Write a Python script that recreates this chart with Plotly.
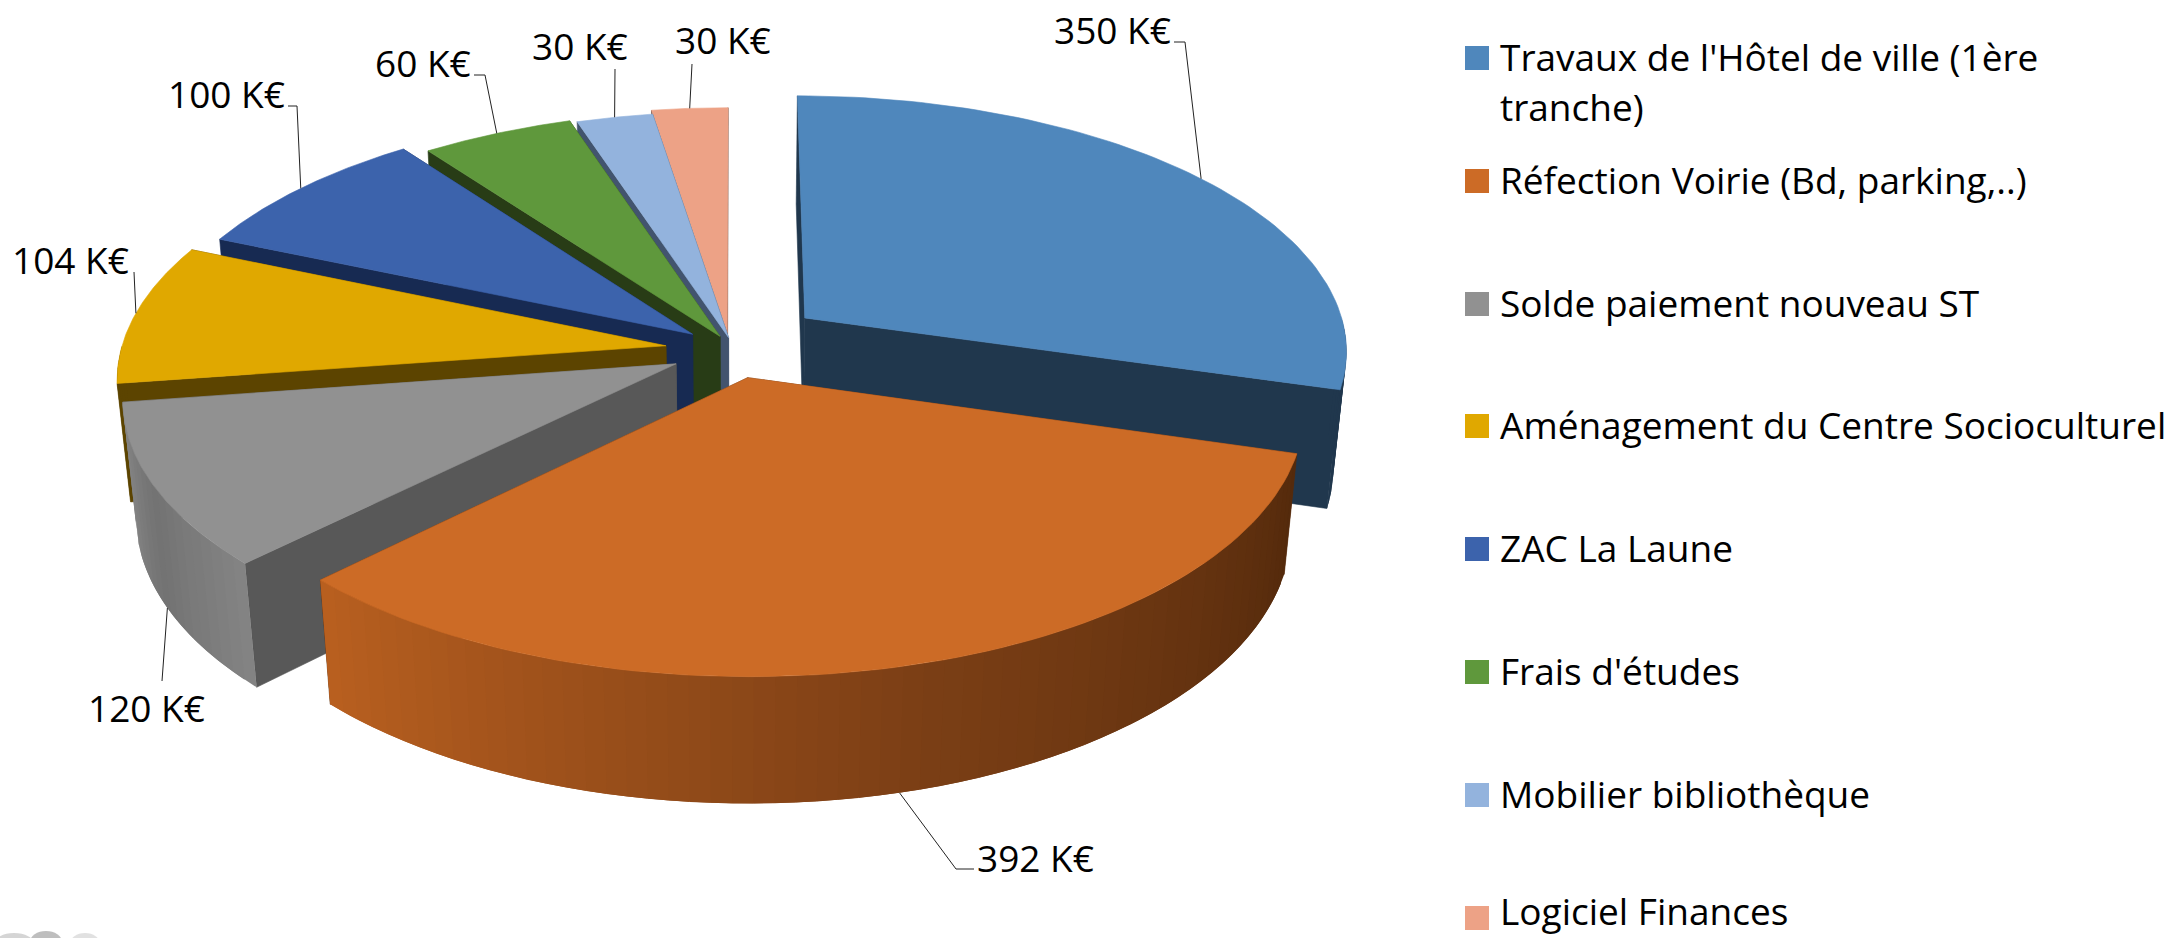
import numpy as np
import plotly.graph_objects as go

# ---- data ----
CATEGORIES = ["Travaux de l'Hôtel de ville (1ère\ntranche)", "Réfection Voirie (Bd, parking,..)",
              "Solde paiement nouveau ST", "Aménagement du Centre Socioculturel", "ZAC La Laune",
              "Frais d'études", "Mobilier bibliothèque", "Logiciel Finances"]
VALUES = [350, 392, 120, 104, 100, 60, 30, 30]
UNIT = "K€"

# ---- styles ----
TOP_COLORS = ["#4F87BC", "#CC6B26", "#919191", "#E0A800", "#3C63AC", "#5F983C", "#93B3DD", "#EDA286"]
SIDE_COLORS = ["#20374D", "#5A2E0E", "#585858", "#5C4400", "#172A52", "#283C16", "#42546E", "#64463C"]
OUTER_STOPS = {1: [(186, 96, 32), (125, 64, 22), (84, 42, 12)],
               2: [(138, 138, 138), (115, 115, 115), (132, 132, 132)]}
EXPLODE = [0.17, 0.11, 0.12, 0.128, 0.10, 0.06, 0.05, 0.08]
NUDGE_U = [-0.006, -0.004, 0, 0, 0, 0, 0, -0.008]
NUDGE_V = [0.025, 0, 0, 0, 0, 0, 0, -0.012]
DRAW_ORDER = [7, 6, 5, 4, 3, 0, 2, 1]
FONT = "Open Sans"
FS = 37

# projection constants
CX, CY, A, B, K, M, H = 735, 350, 256, 545, 0.12, 0.022, 120


def project(u, v, z=0.0):
    w = 1 + K * v + M * z
    return CX + B * u / w, CY - A * v / w + H * z / w


total = sum(VALUES)
edges = np.concatenate([[0], np.cumsum(VALUES)]) / total * 2 * np.pi

fig = go.Figure()


def poly(xs, ys, color, lw=0.6):
    fig.add_trace(go.Scatter(x=list(xs), y=list(ys), mode="lines", fill="toself", fillcolor=color,
                             line=dict(color=color, width=lw), hoverinfo="skip", showlegend=False))


def offset(i):
    b = (edges[i] + edges[i + 1]) / 2
    return EXPLODE[i] * np.sin(b) + NUDGE_U[i], EXPLODE[i] * np.cos(b) + NUDGE_V[i]


def rim(i, t, z=0.0):
    du, dv = offset(i)
    return project(np.sin(t) + du, np.cos(t) + dv, z)


def apex(i, z=0.0):
    du, dv = offset(i)
    return project(du, dv, z)


def lerp(stops, f):
    p = f * (len(stops) - 1)
    j = min(int(p), len(stops) - 2)
    r = p - j
    c = [stops[j][n] + (stops[j + 1][n] - stops[j][n]) * r for n in range(3)]
    return "rgb(%d,%d,%d)" % tuple(c)


for i in DRAW_ORDER:
    s, e = edges[i], edges[i + 1]
    # radial walls
    for t in (e, s):
        a0, a1 = apex(i), apex(i, 1)
        r0, r1 = rim(i, t), rim(i, t, 1)
        poly([a0[0], r0[0], r1[0], a1[0], a0[0]], [a0[1], r0[1], r1[1], a1[1], a0[1]],
             SIDE_COLORS[i])
    # outer wall (front half only); each quad overlaps the next so no seams show
    lo, hi = max(s, np.pi / 2), min(e, 3 * np.pi / 2)
    if hi > lo:
        n = max(2, int((hi - lo) / np.radians(2)) + 1)
        ts = np.linspace(lo, hi, n + 1)
        for j in range(n):
            f = (j + 0.5) / n
            col = lerp(OUTER_STOPS[i][::-1], f) if i in OUTER_STOPS else SIDE_COLORS[i]
            arc_t = np.linspace(ts[j], ts[min(j + 2, n)], 5)
            p = [rim(i, t) for t in arc_t] + [rim(i, t, 1) for t in arc_t[::-1]]
            poly([q[0] for q in p] + [p[0][0]], [q[1] for q in p] + [p[0][1]], col, lw=0)
    # top face
    ts = np.linspace(s, e, 80)
    arc = [rim(i, t) for t in ts]
    a = apex(i)
    poly([a[0]] + [q[0] for q in arc] + [a[0]], [a[1]] + [q[1] for q in arc] + [a[1]], TOP_COLORS[i])

# ---- value labels with leader lines ----
LABEL_POS = [(1112, 29), (1035, 857), (146, 707), (70, 259), (226, 93), (423, 62), (580, 45), (723, 39)]
LEADER_ELBOWS = [[(1174, 42), (1185, 42)], [(974, 869), (956, 869)], [(162, 681)], [(134, 272)],
                 [(288, 106), (297, 106)], [(474, 75), (485, 75)], [(615, 69)], [(692, 64)]]
LEADER_ON_WALL = [False, True, True, False, False, False, False, False]
for i, v in enumerate(VALUES):
    b = (edges[i] + edges[i + 1]) / 2
    end = rim(i, b, 1 if LEADER_ON_WALL[i] else 0)
    pts = LEADER_ELBOWS[i] + [end]
    fig.add_trace(go.Scatter(x=[p[0] for p in pts], y=[p[1] for p in pts], mode="lines",
                             line=dict(color="#222222", width=1), hoverinfo="skip", showlegend=False))
    fig.add_annotation(x=LABEL_POS[i][0], y=LABEL_POS[i][1], text=f"{v} {UNIT}", showarrow=False,
                       xanchor="center", yanchor="middle", font=dict(family=FONT, size=FS, color="black"))

# ---- legend ----
LEG_X, LEG_TXT_X = 1477, 1498
LEG_Y = [58, 181, 304, 426, 549, 672, 795, 918]
TXT_Y = [56, 179, 302, 424, 547, 670, 793, 910]
LINE_STEP = 50
fig.add_trace(go.Scatter(x=[LEG_X] * len(LEG_Y), y=LEG_Y, mode="markers", hoverinfo="skip", showlegend=False,
                         marker=dict(symbol="square", size=24, color=TOP_COLORS, line=dict(width=0))))
for name, y in zip(CATEGORIES, TXT_Y):
    for k, part in enumerate(name.split("\n")):
        fig.add_annotation(x=LEG_TXT_X, y=y + k * LINE_STEP, text=part, showarrow=False, xanchor="left",
                           yanchor="middle", font=dict(family=FONT, size=FS, color="black"))

# cropped logo fragment at the bottom-left edge
for x0, x1, y0, col in [(-6, 34, 933, "rgba(150,150,150,0.4)"), (30, 62, 931, "rgba(110,110,110,0.45)"),
                        (70, 100, 933, "rgba(170,170,170,0.35)")]:
    fig.add_shape(type="circle", x0=x0, x1=x1, y0=y0, y1=y0 + 22, line=dict(width=0), fillcolor=col)

fig.update_layout(width=2167, height=938, margin=dict(l=0, r=0, t=0, b=0), paper_bgcolor="white",
                  plot_bgcolor="white", showlegend=False,
                  xaxis=dict(range=[0, 2167], visible=False, fixedrange=True),
                  yaxis=dict(range=[938, 0], visible=False, fixedrange=True))
fig.write_html("out.html", config={"displayModeBar": False},
               post_script="document.body.style.margin='0';document.body.style.overflow='hidden';")
